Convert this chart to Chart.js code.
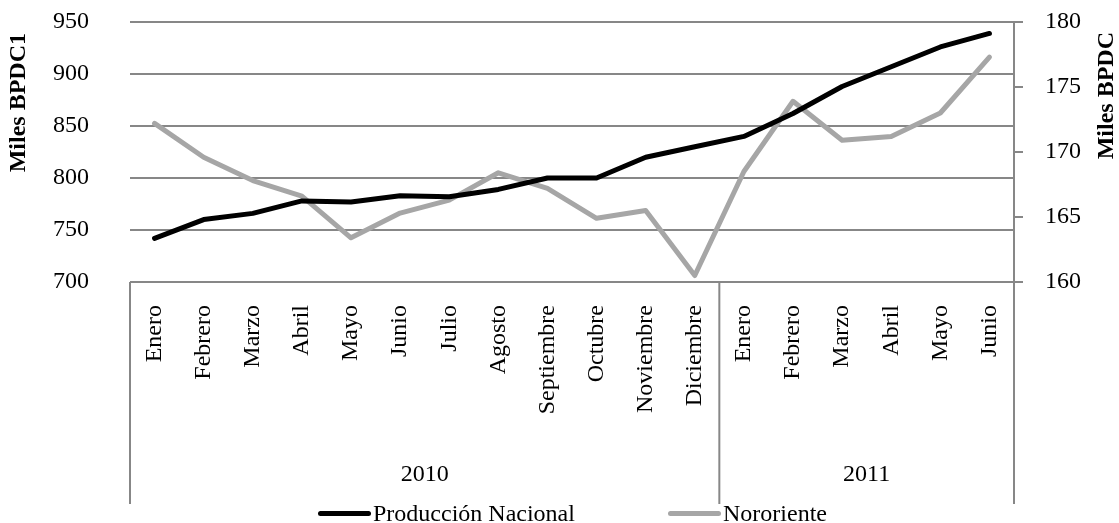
<!DOCTYPE html>
<html>
<head>
<meta charset="utf-8">
<script src="https://cdn.jsdelivr.net/npm/chart.js@4"></script>
<style>
  html, body { margin:0; padding:0; background:#fff; }
  #wrap { position:relative; width:1119px; height:523px; overflow:hidden; }
  #legend { position:absolute; left:0; top:501px; width:1119px; height:24px; font:24px "Liberation Serif", serif; line-height:24px; color:#000; }
  .item { position:absolute; top:0; display:flex; align-items:center; height:24px; white-space:nowrap; }
  .sw { display:inline-block; width:53px; height:5px; border-radius:3px; margin-right:2px; }
</style>
</head>
<body>
<div id="wrap">
  <canvas id="c" width="1119" height="523"></canvas>
  <div id="legend"></div>
</div>
<script>
const months = ['Enero','Febrero','Marzo','Abril','Mayo','Junio','Julio','Agosto','Septiembre','Octubre','Noviembre','Diciembre','Enero','Febrero','Marzo','Abril','Mayo','Junio'];
const years = ['2010','2011'];
const yearSpans = [12, 6];
const nacional = [742,760,766,778,777,783,782,789,800,800,820,830,840,862,888,907,926,939];
const nororiente = [172.2,169.6,167.8,166.6,163.4,165.3,166.3,168.4,167.2,164.9,165.5,160.5,168.5,173.9,170.9,171.2,173.0,177.3];
const leftTitle = 'Miles BPDC1';
const rightTitle = 'Miles BPDC';
const seriesNames = ['Producción Nacional','Nororiente'];
const leftRange = [700, 950, 50];
const rightRange = [160, 180, 5];

const FONT = '"Liberation Serif", "Times New Roman", serif';
const GRID = '#878787';

const yearCenters = [];
(function(){ let s = 0; yearSpans.forEach(n => { yearCenters.push(s + n/2 - 0.5); s += n; }); })();

function drawAxisTitle(ctx, text, x, y) {
  ctx.save();
  ctx.fillStyle = '#000';
  ctx.font = 'bold 24px ' + FONT;
  ctx.translate(x, y);
  ctx.rotate(-Math.PI/2);
  ctx.textAlign = 'right';
  ctx.textBaseline = 'middle';
  ctx.fillText(text, 0, 0);
  ctx.restore();
}

const boxPlugin = {
  id: 'boxPlugin',
  afterDraw(chart) {
    const ctx = chart.ctx;
    const x = chart.scales.x, x2 = chart.scales.x2;
    const area = chart.chartArea;
    const bounds = [area.left];
    let s = 0;
    yearSpans.forEach((n, i) => {
      s += n;
      if (i < yearSpans.length - 1) bounds.push((x.getPixelForTick(s-1) + x.getPixelForTick(s)) / 2);
    });
    bounds.push(area.right);
    ctx.save();
    ctx.strokeStyle = GRID;
    ctx.lineWidth = 2;
    bounds.forEach(b => {
      ctx.beginPath();
      ctx.moveTo(b, area.bottom);
      ctx.lineTo(b, x2.bottom + 4);
      ctx.stroke();
    });
    ctx.restore();
    // axis titles (both read bottom-to-top)
    const y = chart.scales.y, y1 = chart.scales.y1;
    drawAxisTitle(ctx, leftTitle, y.left + 19, area.top + 11);
    drawAxisTitle(ctx, rightTitle, y1.right - 12, area.top + 10);
  }
};

function noVPad(s) { s.paddingTop = 0; s.paddingBottom = 0; }

const chart = new Chart(document.getElementById('c'), {
  type: 'line',
  data: {
    labels: months,
    datasets: [
      { label: seriesNames[0], data: nacional, yAxisID: 'y', xAxisID: 'x', borderColor: '#000000', backgroundColor: '#000000', borderWidth: 5, pointRadius: 0, tension: 0, borderCapStyle: 'round', borderJoinStyle: 'round' },
      { label: seriesNames[1], data: nororiente, yAxisID: 'y1', xAxisID: 'x', borderColor: '#a6a6a6', backgroundColor: '#a6a6a6', borderWidth: 5, pointRadius: 0, tension: 0, borderCapStyle: 'round', borderJoinStyle: 'round' }
    ]
  },
  options: {
    responsive: false,
    animation: false,
    layout: { padding: { top: 22, left: 0, right: 0, bottom: 23 } },
    plugins: { legend: { display: false }, tooltip: { enabled: false } },
    scales: {
      x: {
        type: 'category', position: 'bottom', offset: true,
        grid: { display: false, drawTicks: false },
        border: { display: false },
        ticks: { autoSkip: false, minRotation: 90, maxRotation: 90, padding: 23, color: '#000', font: { family: FONT, size: 24 } },
        afterFit(s) { s.height = 140; s.paddingLeft = 0; s.paddingRight = 0; }
      },
      x2: {
        type: 'linear', position: 'bottom', min: -0.5, max: 17.5,
        grid: { display: false, drawTicks: false },
        border: { display: false },
        afterBuildTicks(s) { s.ticks = yearCenters.map(v => ({ value: v })); },
        ticks: { autoSkip: false, maxRotation: 0, padding: 38, color: '#000', font: { family: FONT, size: 24 }, callback: (v, i) => years[i] },
        afterFit(s) { s.height = 78; s.paddingLeft = 0; s.paddingRight = 0; }
      },
      y: {
        position: 'left', min: leftRange[0], max: leftRange[1],
        grid: { color: GRID, lineWidth: 2, drawTicks: false },
        border: { display: false },
        ticks: { stepSize: leftRange[2], padding: 41, color: '#000', font: { family: FONT, size: 24 } },
        afterFit(s) { s.width = 130; noVPad(s); }
      },
      y1: {
        position: 'right', min: rightRange[0], max: rightRange[1],
        grid: { color: GRID, lineWidth: 2, drawOnChartArea: false, drawTicks: true, tickLength: 9 },
        border: { display: true, color: GRID, width: 2 },
        ticks: { stepSize: rightRange[2], padding: 22, color: '#000', font: { family: FONT, size: 24 } },
        afterFit(s) { s.width = 105; noVPad(s); }
      }
    }
  },
  plugins: [boxPlugin]
});

const legendX = [318, 668];
const legend = document.getElementById('legend');
chart.data.datasets.forEach((ds, i) => {
  const item = document.createElement('div');
  item.className = 'item';
  item.style.left = legendX[i] + 'px';
  const sw = document.createElement('span');
  sw.className = 'sw';
  sw.style.background = ds.borderColor;
  const tx = document.createElement('span');
  tx.textContent = ds.label;
  item.appendChild(sw);
  item.appendChild(tx);
  legend.appendChild(item);
});
</script>
</body>
</html>
